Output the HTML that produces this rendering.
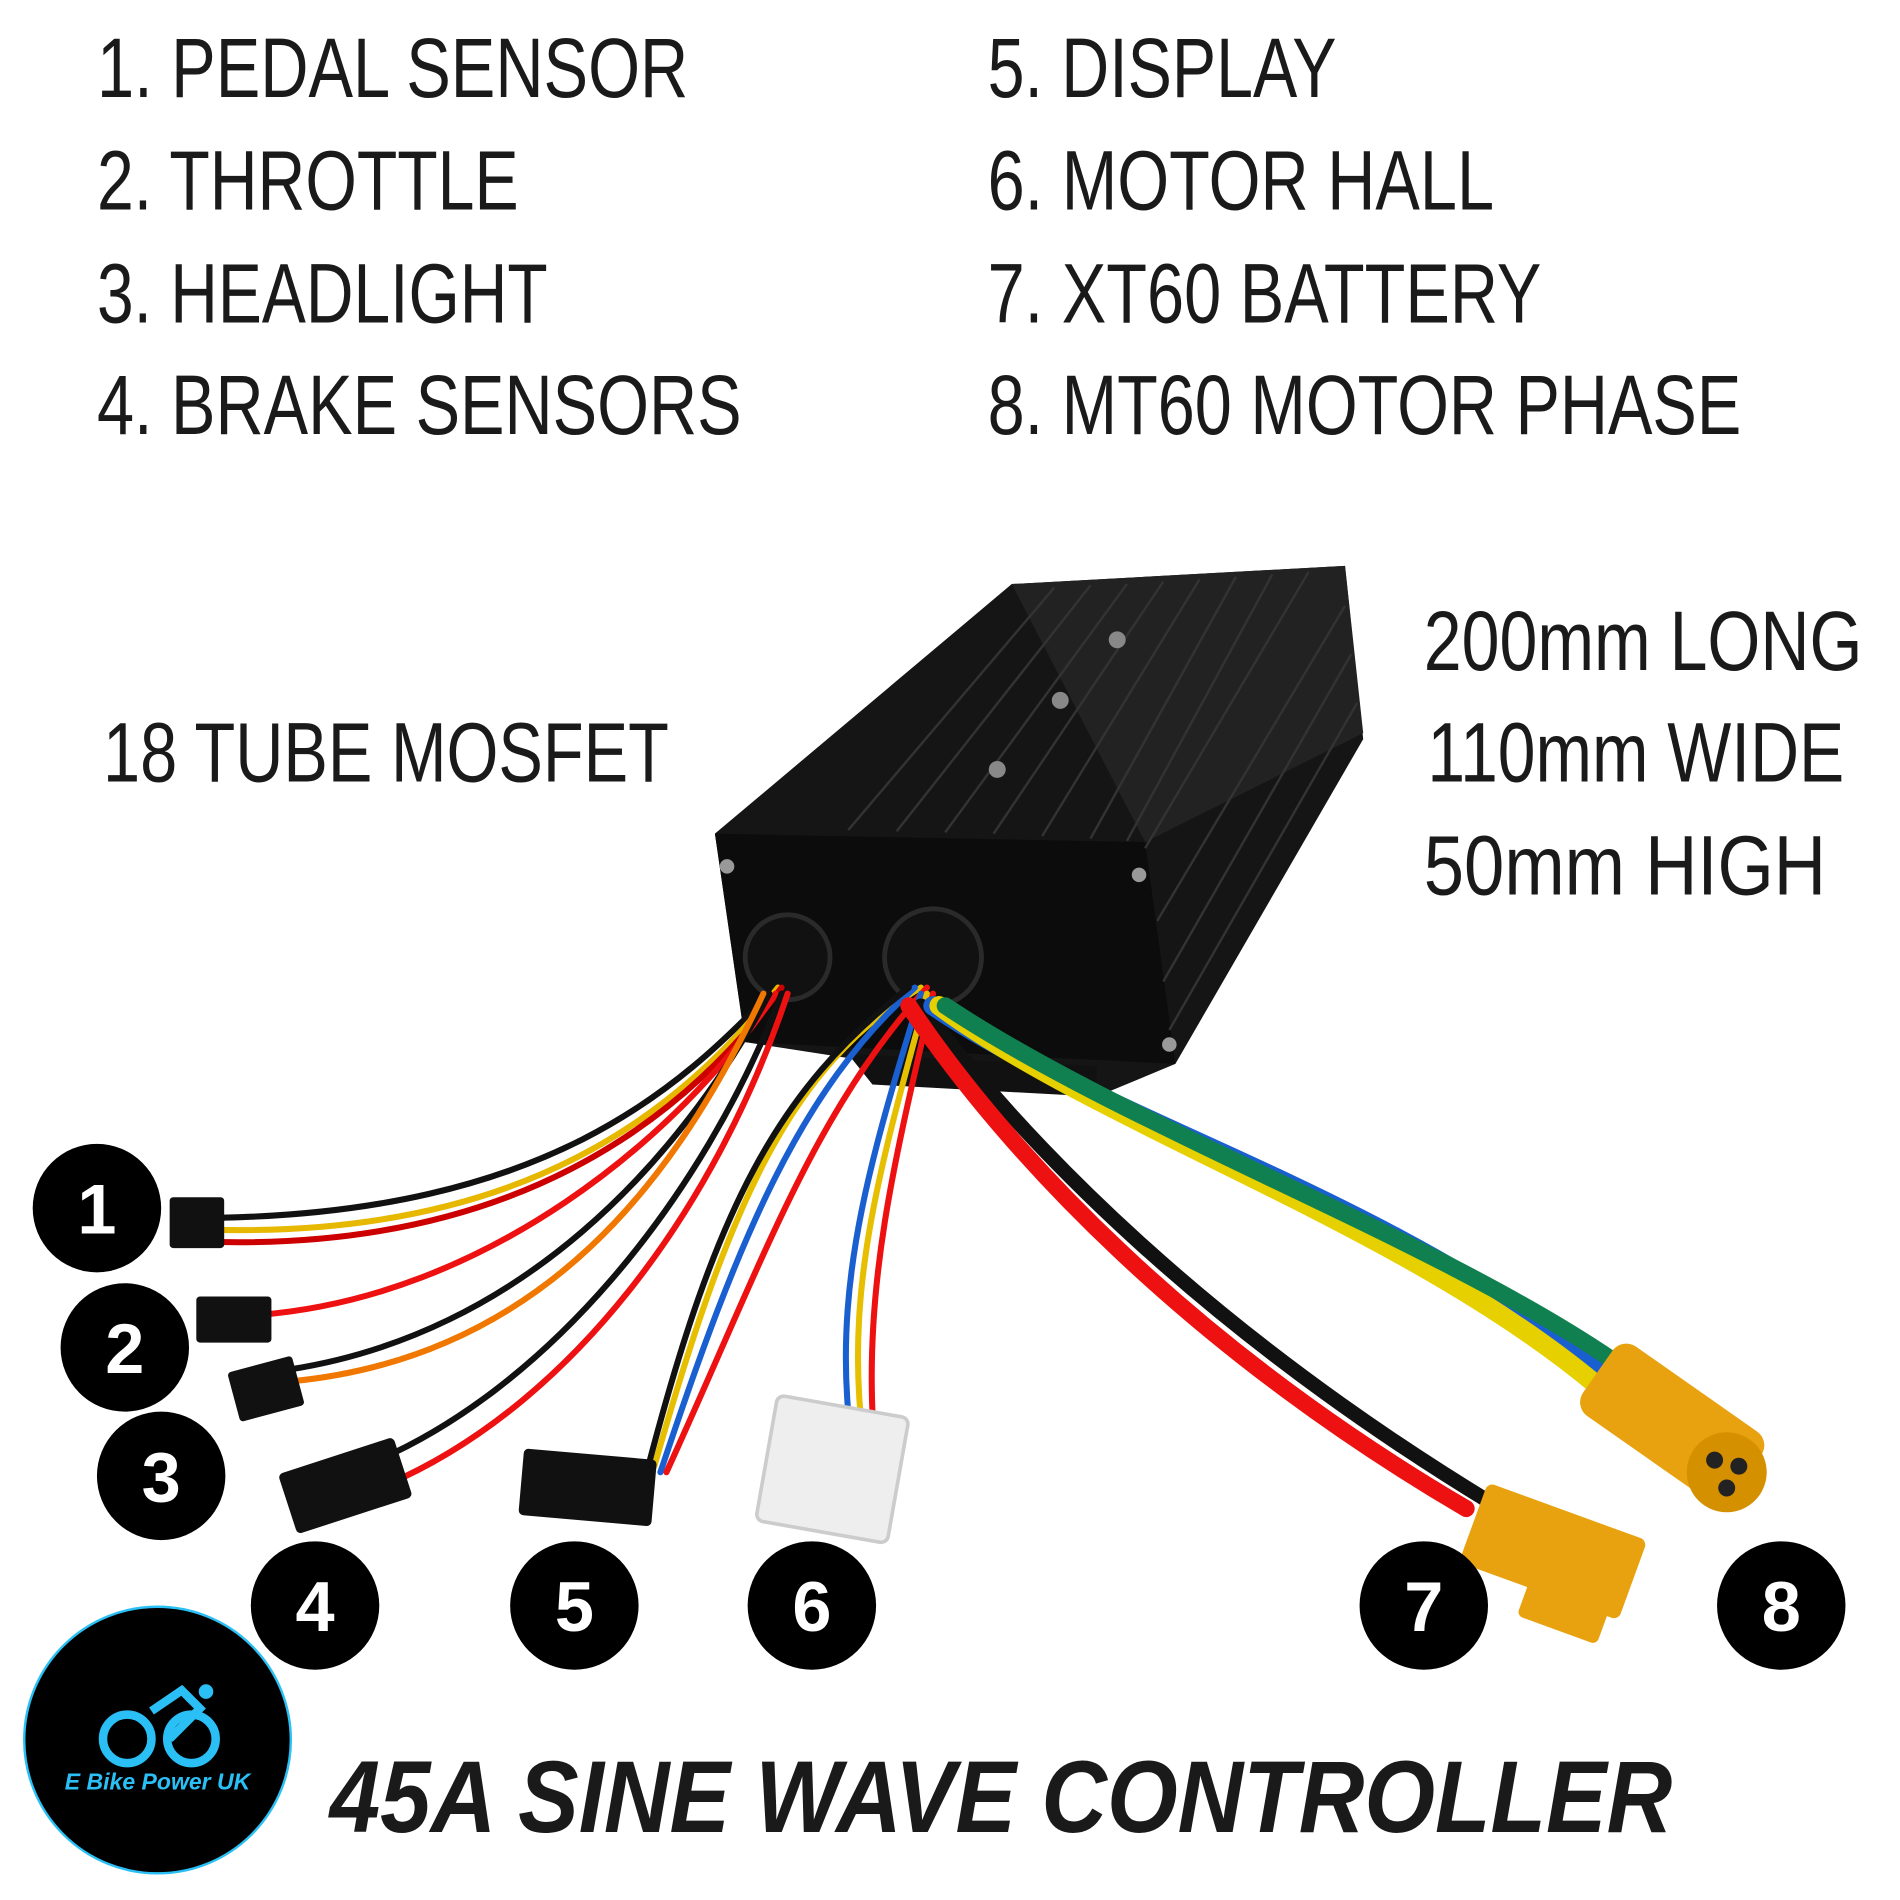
<!DOCTYPE html>
<html><head><meta charset="utf-8"><style>
html,body{margin:0;padding:0;background:#fff}
svg{display:block}
.t{font-family:"Liberation Sans",sans-serif;fill:#1a1a1a;font-size:70px}
.n{font-family:"Liberation Sans",sans-serif;font-weight:bold;fill:#fff;font-size:58px}
</style></head><body>
<svg width="1900" height="1900" viewBox="0 0 1568 1568" xmlns="http://www.w3.org/2000/svg">
<rect width="1568" height="1568" fill="#fff"/>
<g class="t">
<text x="80" y="80" textLength="488" lengthAdjust="spacingAndGlyphs">1. PEDAL SENSOR</text>
<text x="80" y="173" textLength="348" lengthAdjust="spacingAndGlyphs">2. THROTTLE</text>
<text x="80" y="266" textLength="372" lengthAdjust="spacingAndGlyphs">3. HEADLIGHT</text>
<text x="80" y="358" textLength="532" lengthAdjust="spacingAndGlyphs">4. BRAKE SENSORS</text>
<text x="815" y="80" textLength="288" lengthAdjust="spacingAndGlyphs">5. DISPLAY</text>
<text x="815" y="173" textLength="418" lengthAdjust="spacingAndGlyphs">6. MOTOR HALL</text>
<text x="815" y="266" textLength="457" lengthAdjust="spacingAndGlyphs">7. XT60 BATTERY</text>
<text x="815" y="358" textLength="622" lengthAdjust="spacingAndGlyphs">8. MT60 MOTOR PHASE</text>
<text x="85" y="645" textLength="467" lengthAdjust="spacingAndGlyphs">18 TUBE MOSFET</text>
<text x="1175" y="553" textLength="362" lengthAdjust="spacingAndGlyphs">200mm LONG</text>
<text x="1178" y="645" textLength="344" lengthAdjust="spacingAndGlyphs">110mm WIDE</text>
<text x="1175" y="738" textLength="332" lengthAdjust="spacingAndGlyphs">50mm   HIGH</text>
</g>
<!-- controller -->
<polygon points="590,688 835,482 1110,467 1125,610 970,878 905,905 615,860" fill="#151515"/>
<polygon points="835,482 1110,467 1125,605 945,695" fill="#222"/>
<polygon points="590,688 945,695 970,878 615,860" fill="#0c0c0c"/>
<g stroke="#333" stroke-width="2">
<line x1="870" y1="485" x2="700" y2="685"/><line x1="900" y1="483" x2="740" y2="686"/><line x1="930" y1="482" x2="780" y2="687"/>
<line x1="960" y1="480" x2="820" y2="688"/><line x1="990" y1="478" x2="860" y2="690"/><line x1="1020" y1="476" x2="900" y2="692"/>
<line x1="1050" y1="474" x2="930" y2="694"/><line x1="1080" y1="472" x2="945" y2="700"/>
<line x1="1110" y1="500" x2="955" y2="760"/><line x1="1115" y1="540" x2="960" y2="810"/><line x1="1120" y1="580" x2="965" y2="850"/>
</g>
<circle cx="922" cy="528" r="7" fill="#888"/><circle cx="875" cy="578" r="7" fill="#888"/><circle cx="823" cy="635" r="7" fill="#888"/>
<circle cx="600" cy="715" r="6" fill="#999"/><circle cx="940" cy="722" r="6" fill="#999"/><circle cx="965" cy="862" r="6" fill="#999"/>
<circle cx="650" cy="790" r="35" fill="#111" stroke="#2a2a2a" stroke-width="4"/>
<circle cx="770" cy="790" r="40" fill="#111" stroke="#2a2a2a" stroke-width="4"/>
<polygon points="700,870 905,880 905,905 720,895" fill="#111"/>
<!-- wires -->
<g fill="none" stroke-linecap="round">
<path d="M640,815 C560,900 450,1000 180,1005" stroke="#111" stroke-width="5"/>
<path d="M642,815 C560,920 430,1020 180,1015" stroke="#e6b800" stroke-width="5"/>
<path d="M645,815 C560,930 420,1030 180,1025" stroke="#c00" stroke-width="5"/>
<path d="M640,820 C560,940 400,1070 215,1085" stroke="#e11" stroke-width="5"/>
<path d="M635,820 C560,960 430,1100 240,1130" stroke="#111" stroke-width="5"/>
<path d="M630,820 C560,970 450,1120 240,1140" stroke="#f07800" stroke-width="5"/>
<path d="M645,820 C580,990 450,1150 300,1210" stroke="#111" stroke-width="5"/>
<path d="M650,820 C590,1000 470,1160 320,1225" stroke="#e11" stroke-width="5"/>
<path d="M760,815 C650,880 600,1000 540,1210" stroke="#e6c000" stroke-width="5"/>
<path d="M755,815 C660,900 610,1020 545,1215" stroke="#1a5fd0" stroke-width="5"/>
<path d="M765,815 C670,920 630,1040 550,1215" stroke="#e11" stroke-width="5"/>
<path d="M750,815 C640,900 590,1000 535,1210" stroke="#111" stroke-width="5"/>
<path d="M760,820 C720,950 690,1050 700,1165" stroke="#1a5fd0" stroke-width="5"/>
<path d="M765,820 C730,950 700,1050 710,1165" stroke="#e6c000" stroke-width="5"/>
<path d="M770,820 C740,950 715,1050 720,1165" stroke="#e11" stroke-width="5"/>
<path d="M760,830 C850,950 1000,1100 1230,1240" stroke="#111" stroke-width="12"/>
<path d="M750,830 C830,950 980,1110 1210,1245" stroke="#e11" stroke-width="14"/>
<path d="M770,830 C900,920 1150,990 1320,1130" stroke="#1a5fd0" stroke-width="16"/>
<path d="M775,830 C910,930 1160,1010 1320,1145" stroke="#e6d000" stroke-width="16"/>
<path d="M780,830 C930,930 1180,1020 1330,1122" stroke="#108050" stroke-width="14"/>
</g>
<!-- connectors -->
<g fill="#111">
<rect x="140" y="988" width="45" height="42" rx="3"/>
<rect x="162" y="1070" width="62" height="38" rx="3"/>
<rect x="192" y="1125" width="55" height="42" rx="3" transform="rotate(-15 220 1146)"/>
<rect x="235" y="1200" width="100" height="52" rx="4" transform="rotate(-18 285 1226)"/>
<rect x="430" y="1200" width="110" height="55" rx="4" transform="rotate(5 485 1227)"/>
</g>
<rect x="632" y="1160" width="110" height="105" rx="6" fill="#eee" stroke="#ccc" stroke-width="3" transform="rotate(10 687 1212)"/>
<!-- XT60 -->
<g transform="rotate(20 1280 1285)"><rect x="1210" y="1245" width="140" height="70" rx="6" fill="#e8a210"/><rect x="1270" y="1300" width="70" height="40" rx="5" fill="#e8a210"/></g>
<!-- MT60 -->
<g transform="rotate(35 1380 1175)"><rect x="1305" y="1140" width="150" height="70" rx="14" fill="#e8a210"/></g>
<circle cx="1425" cy="1215" r="33" fill="#d59000"/>
<circle cx="1415" cy="1205" r="7" fill="#222"/><circle cx="1435" cy="1210" r="7" fill="#222"/><circle cx="1425" cy="1228" r="7" fill="#222"/>
<!-- number circles -->
<g>
<circle cx="80" cy="997" r="53"/><circle cx="103" cy="1112" r="53"/><circle cx="133" cy="1218" r="53"/>
<circle cx="260" cy="1325" r="53"/><circle cx="474" cy="1325" r="53"/><circle cx="670" cy="1325" r="53"/>
<circle cx="1175" cy="1325" r="53"/><circle cx="1470" cy="1325" r="53"/>
</g>
<g class="n" text-anchor="middle">
<text x="80" y="1018">1</text><text x="103" y="1133">2</text><text x="133" y="1239">3</text>
<text x="260" y="1346">4</text><text x="474" y="1346">5</text><text x="670" y="1346">6</text>
<text x="1175" y="1346">7</text><text x="1470" y="1346">8</text>
</g>
<!-- logo -->
<circle cx="130" cy="1436" r="110" fill="#000" stroke="#2ac0f5" stroke-width="2"/>
<g fill="none" stroke="#2ac0f5" stroke-width="7">
<circle cx="105" cy="1435" r="20"/><circle cx="158" cy="1435" r="20"/>
<path d="M125,1412 L150,1395 L165,1410 L140,1435"/>
</g>
<circle cx="170" cy="1396" r="6" fill="#2ac0f5"/>
<text x="130" y="1477" text-anchor="middle" font-family="Liberation Sans,sans-serif" font-weight="bold" font-style="italic" font-size="19" fill="#2ac0f5">E Bike Power UK</text>
<text x="272" y="1512" font-family="Liberation Sans,sans-serif" font-weight="bold" font-style="italic" font-size="84" fill="#1a1a1a" textLength="1108" lengthAdjust="spacingAndGlyphs">45A SINE WAVE CONTROLLER</text>
</svg>
</body></html>
